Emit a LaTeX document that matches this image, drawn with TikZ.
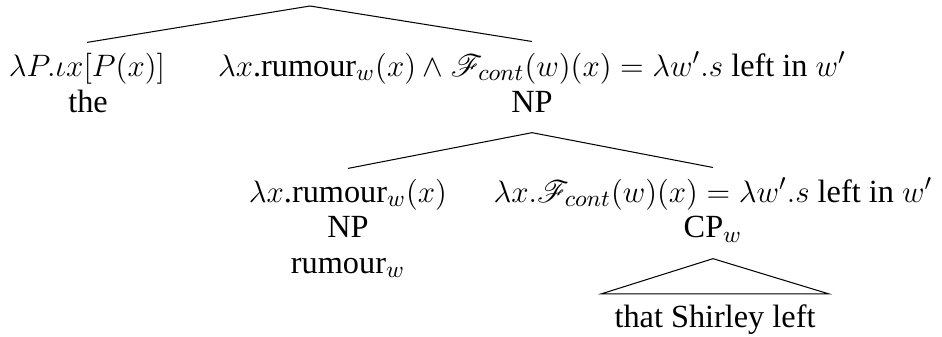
\documentclass[tikz,border=0pt]{standalone}
\usepackage[no-math]{fontspec}
\setmainfont{Liberation Serif}
\usepackage{mathrsfs}
\usetikzlibrary{positioning}

\tikzset{
  sem/.style={anchor=base, inner xsep=0pt, inner ysep=3.8pt},
  lab/.style={anchor=base, inner sep=0pt},
  yield/.style={anchor=base, inner xsep=5pt, inner ysep=3.8pt},
}

\begin{document}
\begin{tikzpicture}[x=0.387pt, y=-0.387pt, font=\fontsize{12.5}{15}\selectfont]
  \useasboundingbox (0,0) rectangle (942,337);
  % DP level
  \coordinate (dp) at (310,6);
  \node[sem] (detsem) at (87,76) {$\lambda P.\iota x[P(x)]$};
  \node[lab] (det) at (88,112) {the};
  \node[sem] (npsem) at (532,76)
    {$\lambda x$.rumour$_w(x) \wedge \mathscr{F}_{cont}(w)(x) = \lambda w'.s$ left in $w'$};
  \node[lab] (np) at (532,112) {NP};
  \draw (dp) -- (detsem.north);
  \draw (dp) -- (npsem.north);
  % NP level
  \coordinate (npfoot) at ([yshift=-8pt]np.base);
  \node[sem] (nsem) at (348,202) {$\lambda x$.rumour$_w(x)$};
  \node[lab] (n) at (348,238) {NP};
  \node[lab] (nlex) at (348,273) {rumour$_w$};
  \node[sem] (cpsem) at (713,202) {$\lambda x.\mathscr{F}_{cont}(w)(x) = \lambda w'.s$ left in $w'$};
  \node[lab] (cp) at (713,238) {CP$_w$};
  \draw (npfoot) -- (nsem.north);
  \draw (npfoot) -- (cpsem.north);
  % CP triangle
  \coordinate (cpfoot) at ([yshift=-8pt]cp.base);
  \node[yield] (clause) at (715,327) {that Shirley left};
  \draw (cpfoot) -- (clause.north west) -- (clause.north east) -- cycle;
\end{tikzpicture}
\end{document}
